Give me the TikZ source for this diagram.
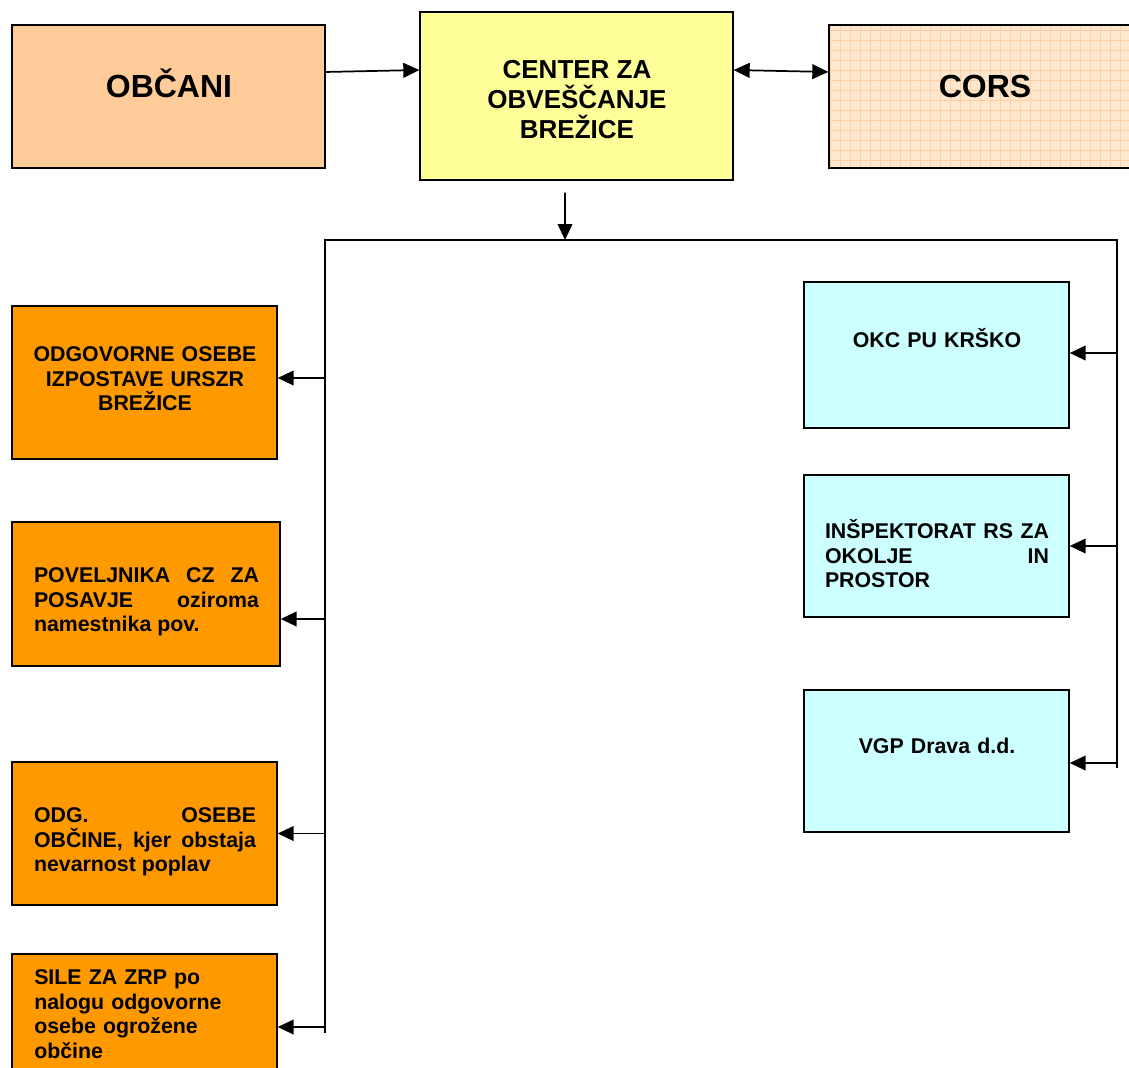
\documentclass[tikz,border=0pt]{standalone}
\usepackage{fontspec}
\setmainfont{Liberation Sans}
\usetikzlibrary{arrows.meta,positioning}
\definecolor{peach}{HTML}{FFCC99}
\definecolor{light_yellow}{HTML}{FFFF99}
\definecolor{dark_orange}{HTML}{FF9900}
\definecolor{light_cyan}{HTML}{CCFFFF}
\definecolor{cors_fill}{HTML}{FFE6CE}
\definecolor{cors_line}{HTML}{FFCFA0}

\begin{document}
\begin{tikzpicture}[x=0.75pt,y=-0.75pt,font=\bfseries,
    box/.style={draw=black,line width=1pt,inner sep=0pt},
    arr/.style={line width=1.3pt,-{Triangle[length=12pt,width=11pt]}},
    bus/.style={line width=1.3pt},
    small/.style={inner sep=0pt,text width=166.5pt,font=\bfseries\fontsize{16pt}{18.4pt}\selectfont}]

        \fill[white] (0,0) rectangle (1129,1068);
        \useasboundingbox (0,0) rectangle (1129,1068);

        % top row
        \node[box,fill=peach,minimum width=234.75pt,minimum height=107.25pt] (obcani) at (168.5,96.5) {};
        \node[box,fill=light_yellow,minimum width=234.75pt,minimum height=126pt] (center) at (576.5,96) {};
        \node[box,fill=cors_fill,minimum width=233.25pt,minimum height=107.25pt] (cors) at (984.5,96.5) {};
        \begin{scope}
            \clip (829,25) rectangle (1140,168);
            \draw[cors_line,line width=0.4pt,step=7.5pt] (829,25) grid (1140,168);
        \end{scope}
        \draw[line width=1pt] (829,25) rectangle (1140,168);

        \node[anchor=base,font=\bfseries\fontsize{24pt}{27pt}\selectfont] (obcani_text) at (169,97) {OBČANI};
        \node[align=center,inner sep=0pt,font=\bfseries\fontsize{19.5pt}{22.5pt}\selectfont] (center_text) at (577,100) {CENTER ZA\\OBVEŠČANJE\\BREŽICE};
        \node[anchor=base,font=\bfseries\fontsize{24pt}{27pt}\selectfont] (cors_text) at (985,97) {CORS};

        % left column
        \node[box,fill=dark_orange,minimum width=198.75pt,minimum height=114.75pt] (urszr) at (144.5,382.5) {};
        \node[box,fill=dark_orange,minimum width=201pt,minimum height=108pt] (poveljnik) at (146,594) {};
        \node[box,fill=dark_orange,minimum width=198.75pt,minimum height=107.25pt] (obcina) at (144.5,833.5) {};
        \node[box,fill=dark_orange,minimum width=198.75pt,minimum height=109.5pt] (sile) at (144.5,1027) {};

        \node[small,align=center,text width=190pt] (urszr_text) at (145,379) {ODGOVORNE OSEBE\\IZPOSTAVE URSZR\\BREŽICE};
        \node[small,align=justify,text width=168.75pt] (poveljnik_text) at (146.5,602) {POVELJNIKA CZ ZA\linebreak POSAVJE oziroma\linebreak namestnika pov.};
        \node[small,align=justify] (obcina_text) at (145,842) {ODG. OSEBE\linebreak OBČINE, kjer obstaja\linebreak nevarnost poplav};
        \node[small,align=left,anchor=west] (sile_text) at (34,1014) {SILE ZA ZRP po\\nalogu odgovorne\\osebe ogrožene\\občine};

        % right column
        \node[box,fill=light_cyan,minimum width=198.75pt,minimum height=109.5pt] (okc) at (936.5,355) {};
        \node[box,fill=light_cyan,minimum width=198.75pt,minimum height=106.5pt] (inspektorat) at (936.5,546) {};
        \node[box,fill=light_cyan,minimum width=198.75pt,minimum height=106.5pt] (vgp) at (936.5,761) {};

        \node[small,align=center] (okc_text) at (937,338) {OKC PU KRŠKO};
        \node[small,align=justify,text width=168pt] (inspektorat_text) at (937,554) {INŠPEKTORAT RS ZA\linebreak OKOLJE IN\linebreak PROSTOR};
        \node[small,align=center] (vgp_text) at (937,746) {VGP Drava d.d.};

        % connectors
        \coordinate (bus_top) at (565,240);
        \coordinate (left_end) at (325,1033);
        \coordinate (right_end) at (1117,768);

        \draw[arr] ([yshift=18.4pt]obcani.east) -- ([yshift=19.5pt]center.west);
        \draw[line width=1.3pt,{Triangle[length=12pt,width=11pt]}-{Triangle[length=12pt,width=11pt]}] ([yshift=19.5pt]center.east) -- ([yshift=18.4pt]cors.west);
        \draw[arr] ([xshift=-8.6pt,yshift=-9pt]center.south) -- (bus_top);
        \draw[bus] (left_end) -- (left_end |- bus_top) -- (right_end |- bus_top) -- (right_end);

        \draw[arr] (left_end |- 0,378) -- (urszr.east |- 0,378);
        \draw[arr] (left_end |- 0,619) -- (poveljnik.east |- 0,619);
        \draw[arr] (left_end |- obcina.east) -- (obcina.east);
        \draw[arr] (left_end |- sile.east) -- (sile.east);

        \draw[arr] (right_end |- 0,353) -- (okc.east |- 0,353);
        \draw[arr] (right_end |- inspektorat.east) -- (inspektorat.east);
        \draw[arr] (right_end |- 0,763) -- (vgp.east |- 0,763);

\end{tikzpicture}
\end{document}
